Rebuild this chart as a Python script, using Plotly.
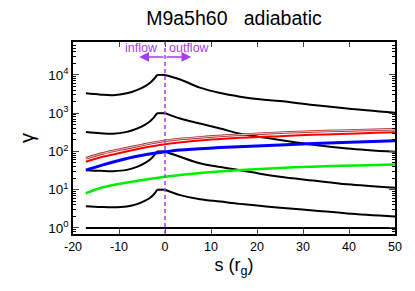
import plotly.graph_objects as go

# ---- data ----
s_black = [-17.2, -14, -11.3, -8.3, -6.1, -4.3, -3.3, -2.4, -1.7, 0, 3.3, 7.6, 12, 16.3, 20.6, 25, 32.2, 39.6, 50]
g_black1 = [3300, 3050, 2950, 3300, 4000, 5100, 6150, 7800, 10000, 10000, 7600, 4650, 3350, 2700, 2300, 2070, 1640, 1320, 1020]
g_black2 = [324, 300, 290, 325, 395, 505, 610, 780, 1000, 1000, 724, 537, 398, 290, 240, 200, 150, 120, 98]
g_black3 = [32.4, 31.2, 30.6, 33.0, 39.5, 50.5, 61.0, 78.0, 100, 100, 72.4, 49, 39.0, 32.4, 26.3, 21.9, 17.4, 13.8, 11.2]
g_black4 = [3.72, 3.55, 3.47, 3.65, 4.2, 5.2, 6.1, 7.6, 10, 10, 7.24, 5.62, 4.9, 4.27, 3.8, 3.4, 2.88, 2.4, 2.0]
s_unity = [-17.2, 50]
g_unity = [1, 1]

s_blue = [-17.2, -13.5, -9.8, -6.1, -1.1, 3.3, 12, 25, 37, 50]
g_blue = [32.4, 44.5, 58.9, 74.5, 93.3, 109.6, 125.9, 147.9, 169.8, 190.5]
s_red = [-17.2, -13.5, -9.8, -6.1, -1.1, 8.9, 25, 50]
g_red = [53.7, 72.4, 91.2, 114.8, 147.9, 199.5, 251.2, 316.2]
s_brown = [-17.2, -13.5, -9.8, -6.1, 0, 8.9, 25, 50]
g_brown = [66.1, 89.1, 112.2, 138, 190.5, 239.9, 309, 380.2]
s_green = [-17.2, -13.5, -9.8, -6.1, 0, 8.9, 25, 50]
g_green = [8.1, 11.6, 14.3, 17.0, 21.9, 28.2, 37.2, 45.7]

x_ticks = [-20, -10, 0, 10, 20, 30, 40, 50]
x_ticktext = ["-20", "-10", "0", "10", "20", "30", "40", "50"]
y_ticks = [1, 10, 100, 1000, 10000]
y_ticktext = ["10<sup>0</sup>", "10<sup>1</sup>", "10<sup>2</sup>", "10<sup>3</sup>", "10<sup>4</sup>"]
y_minor = [m * 10 ** e for e in range(-1, 5) for m in range(2, 10)]

PURPLE = "#a73cf0"
FONT = "Liberation Sans, Arial, sans-serif"

fig = go.Figure()

# black curves: smooth inflow branch, flat plateau, smooth outflow branch
i_top = s_black.index(-1.7)
i_zero = s_black.index(0)
for g in [g_black1, g_black2, g_black3, g_black4]:
    fig.add_trace(go.Scatter(x=s_black[:i_top + 1], y=g[:i_top + 1], mode="lines",
                             line=dict(color="black", width=2, shape="spline", smoothing=1.0),
                             showlegend=False, hoverinfo="skip"))
    fig.add_trace(go.Scatter(x=s_black[i_top:i_zero + 1], y=g[i_top:i_zero + 1], mode="lines",
                             line=dict(color="black", width=2),
                             showlegend=False, hoverinfo="skip"))
    fig.add_trace(go.Scatter(x=s_black[i_zero:], y=g[i_zero:], mode="lines",
                             line=dict(color="black", width=2, shape="spline", smoothing=1.0),
                             showlegend=False, hoverinfo="skip"))
fig.add_trace(go.Scatter(x=s_unity, y=g_unity, mode="lines",
                         line=dict(color="black", width=2), showlegend=False))

fig.add_trace(go.Scatter(x=s_green, y=g_green, mode="lines",
                         line=dict(color="#00ee00", width=2.5, shape="spline"), showlegend=False))
fig.add_trace(go.Scatter(x=s_blue, y=g_blue, mode="lines",
                         line=dict(color="#0000ff", width=3, shape="spline"), showlegend=False))
fig.add_trace(go.Scatter(x=s_brown, y=g_brown, mode="lines",
                         line=dict(color="#a52a2a", width=2.6, shape="spline"), showlegend=False))
fig.add_trace(go.Scatter(x=s_brown, y=g_brown, mode="lines",
                         line=dict(color="#f2d6d6", width=0.9, shape="spline"), showlegend=False))
fig.add_trace(go.Scatter(x=s_red, y=g_red, mode="lines",
                         line=dict(color="#ff0000", width=2, shape="spline"), showlegend=False))

# vertical dashed line at s = 0
fig.add_shape(type="line", xref="x", yref="paper", x0=0, x1=0, y0=0, y1=1,
              line=dict(color=PURPLE, width=1.5, dash="4px,3px"))

# inflow / outflow labels and arrows
fig.add_annotation(x=-1.0, y=0.97, xref="x", yref="paper", text="inflow", showarrow=False,
                   xanchor="right", yanchor="middle", font=dict(color=PURPLE, size=12.5, family=FONT))
fig.add_annotation(x=0.5, y=0.97, xref="x", yref="paper", text="outflow", showarrow=False,
                   xanchor="left", yanchor="middle", font=dict(color=PURPLE, size=12.5, family=FONT))
fig.add_annotation(x=-5.6, y=0.922, xref="x", yref="paper", ax=0, ay=0, axref="x", ayref="pixel",
                   text="", showarrow=True, arrowhead=2, arrowsize=1.3, arrowwidth=1.5,
                   arrowcolor=PURPLE, standoff=0, startstandoff=0)
fig.add_annotation(x=5.7, y=0.922, xref="x", yref="paper", ax=0, ay=0, axref="x", ayref="pixel",
                   text="", showarrow=True, arrowhead=2, arrowsize=1.3, arrowwidth=1.5,
                   arrowcolor=PURPLE, standoff=0, startstandoff=0)

fig.update_layout(
    width=407, height=283,
    margin=dict(l=65, r=20, t=34, b=57),
    paper_bgcolor="white", plot_bgcolor="white",
    font=dict(family=FONT, color="black", size=12),
    title=dict(text="M9a5h60\u00a0\u00a0\u00a0adiabatic", x=0.5, xanchor="center",
               xref="paper", y=0.965, yanchor="middle", font=dict(size=19.5, family=FONT)),
    showlegend=False,
)
fig.update_xaxes(range=[-20, 50], tickvals=x_ticks, ticktext=x_ticktext, ticks="inside", ticklen=5,
                 showline=True, linecolor="black", linewidth=1.5, mirror="ticks",
                 showgrid=False, zeroline=False, tickfont=dict(size=12.5),
                 title=dict(text="s (r<sub>g</sub>)", font=dict(size=18), standoff=6))
fig.update_yaxes(type="log", range=[-0.157, 4.86], tickvals=y_ticks, ticktext=y_ticktext,
                 ticks="inside", ticklen=6, showline=True, linecolor="black", linewidth=1.5,
                 mirror="ticks", showgrid=False, zeroline=False, tickfont=dict(size=13.5),
                 minor=dict(ticks="inside", ticklen=3, tickvals=y_minor, showgrid=False, tickcolor="black"),
                 title=dict(text="γ", font=dict(size=20), standoff=8))

fig.write_html("out.html")
